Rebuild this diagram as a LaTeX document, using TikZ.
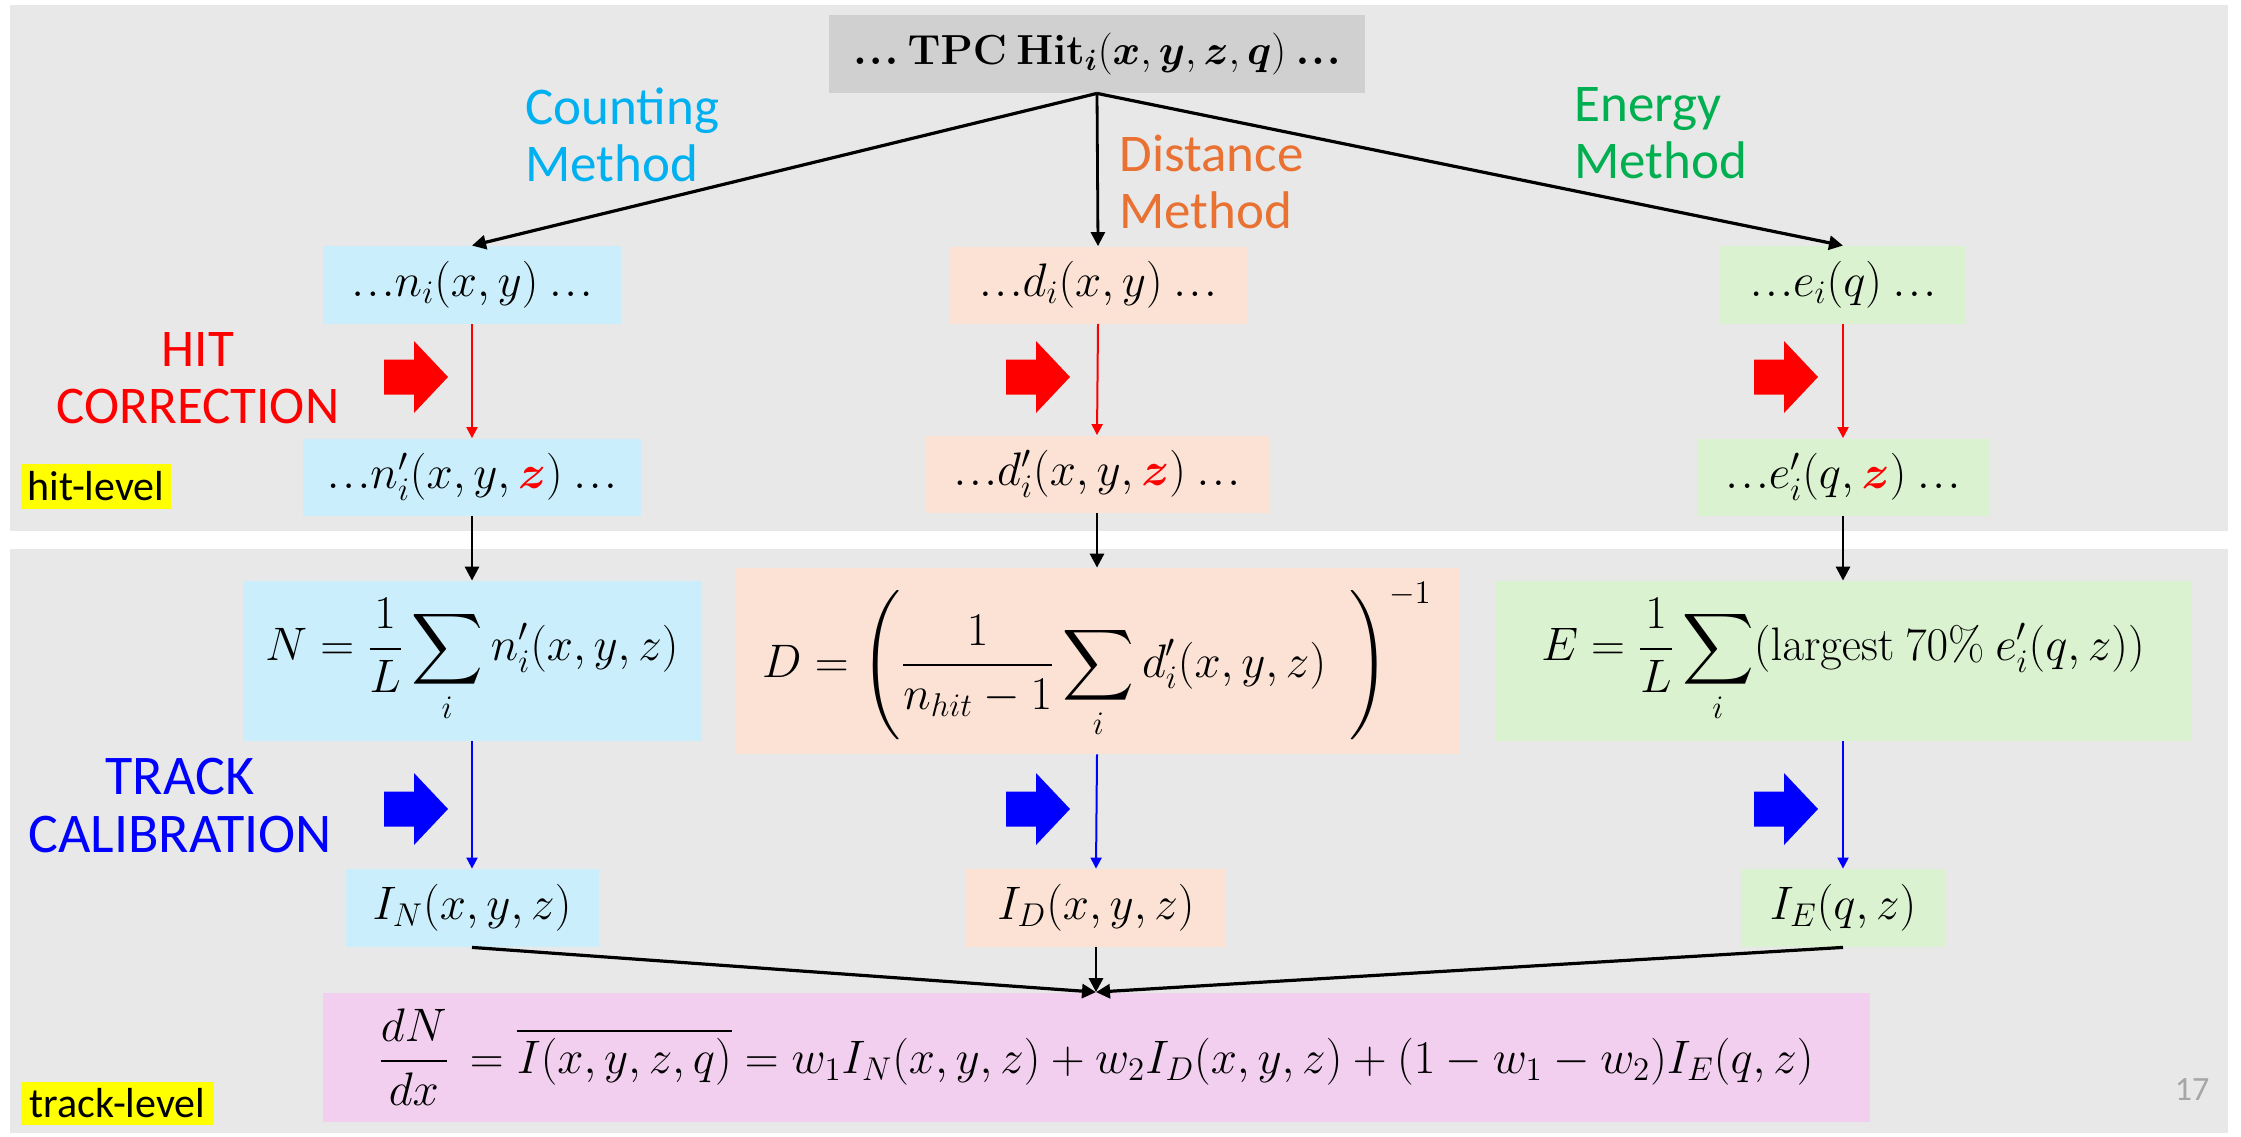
\documentclass[tikz,border=0pt]{standalone}
\usepackage{fix-cm}
\usepackage{amsmath,bm}
\usepackage[no-math]{fontspec}
\setmainfont{Carlito}
\usetikzlibrary{arrows.meta}

\definecolor{panelgray}{HTML}{E8E8E8}
\definecolor{tpcgray}{HTML}{D0D0D0}
\definecolor{boxblue}{HTML}{CAEEFB}
\definecolor{boxorange}{HTML}{FBE2D5}
\definecolor{boxgreen}{HTML}{DAF2D0}
\definecolor{boxpink}{HTML}{F2CEEF}
\definecolor{cntblue}{HTML}{00B0F0}
\definecolor{distorange}{HTML}{E97132}
\definecolor{enggreen}{HTML}{00B050}
\definecolor{hlyellow}{HTML}{FFFF00}
\definecolor{pagegray}{HTML}{A6A6A6}
\definecolor{corrred}{HTML}{FF0000}
\definecolor{calblue}{HTML}{0000FF}

\newcommand{\tdots}{\mathord{\ldotp\mkern-2mu\ldotp\mkern-2mu\ldotp}}
\newcommand{\btdots}{\mathord{\bm{\ldotp}\mkern-2mu\bm{\ldotp}\mkern-2mu\bm{\ldotp}}}

\begin{document}
\begin{tikzpicture}[x=0.5pt,y=-0.5pt,
  mbox/.style={inner sep=0pt, font=\fontsize{23.5}{28}\selectfont},
  lbl/.style={inner sep=0pt, align=left, font=\fontsize{26.5}{28.5}\selectfont},
  clbl/.style={inner sep=0pt, align=center, font=\fontsize{26.5}{28.5}\selectfont},
  tag/.style={inner sep=0pt, fill=hlyellow, font=\fontsize{21}{24}\selectfont},
  blk/.style={-{Triangle[length=7pt,width=7pt]}, line width=1.4pt, black},
  diag/.style={-{Triangle[length=7pt,width=7pt]}, line width=1.6pt, black},
  redarr/.style={-{Triangle[length=5.5pt,width=5.5pt]}, line width=1pt, corrred},
  bluearr/.style={-{Triangle[length=5.5pt,width=5.5pt]}, line width=1pt, calblue},
  bigarrow/.pic={\fill (0,-17.5) -- (30,-17.5) -- (30,-36) -- (64,0) -- (30,36) -- (30,17.5) -- (0,17.5) -- cycle;}
]
\useasboundingbox (0,0) rectangle (2241,1136);
\fill[white] (0,0) rectangle (2241,1136);
\fill[panelgray] (10,5) rectangle (2228,531);
\fill[panelgray] (10,549) rectangle (2228,1133);

% top node
\node[mbox, fill=tpcgray, minimum width=268pt, minimum height=39pt, font=\fontsize{21}{25}\selectfont] (tpc) at (1097,54)
  {$\btdots\ \mathbf{TPC\ Hit}_{\bm i}(\bm x,\bm y,\bm z,\bm q)\ \btdots$};

% method labels
\node[lbl, text=cntblue, anchor=north west] (cntlbl) at (525,87) {Counting\\Method};
\node[lbl, text=distorange, anchor=north west] (distlbl) at (1119,135) {Distance\\Method};
\node[lbl, text=enggreen, anchor=north west] (englbl) at (1574,87) {Energy\\Method};

% hit-level boxes
\node[mbox, fill=boxblue, minimum width=149pt, minimum height=39pt] (ni) at (472,285) {$\tdots n_i(x,y)\ \tdots$};
\node[mbox, fill=boxorange, minimum width=149pt, minimum height=38.5pt] (di) at (1098,285) {$\tdots d_i(x,y)\ \tdots$};
\node[mbox, fill=boxgreen, minimum width=123pt, minimum height=39pt] (ei) at (1843,285) {$\tdots e_i(q)\ \tdots$};

\node[mbox, fill=boxblue, minimum width=169pt, minimum height=38.5pt] (nip) at (472,477) {$\tdots n_i'(x,y,\textcolor{corrred}{\bm z})\ \tdots$};
\node[mbox, fill=boxorange, minimum width=171.5pt, minimum height=38.5pt] (dip) at (1097,474) {$\tdots d_i'(x,y,\textcolor{corrred}{\bm z})\ \tdots$};
\node[mbox, fill=boxgreen, minimum width=146pt, minimum height=38.5pt] (eip) at (1843,477) {$\tdots e_i'(q,\textcolor{corrred}{\bm z})\ \tdots$};

% track-level boxes
\node[mbox, fill=boxblue, minimum width=229.5pt, minimum height=80pt] (N) at (472,661)
  {$N=\dfrac{1}{L}\displaystyle\sum_i n_i'(x,y,z)$};
\node[mbox, fill=boxorange, minimum width=361.5pt, minimum height=93pt] (D) at (1097,661)
  {$D=\left(\dfrac{1}{n_{hit}-1}\displaystyle\sum_i d_i'(x,y,z)\enspace\right)^{-1}$};
\node[mbox, fill=boxgreen, minimum width=348.5pt, minimum height=80pt] (E) at (1843,661)
  {$E=\dfrac{1}{L}\displaystyle\sum_i(\mathrm{largest\ 70\%}\ e_i'(q,z))$};

\node[mbox, fill=boxblue, minimum width=126.5pt, minimum height=39pt] (IN) at (472,908) {$I_N(x,y,z)$};
\node[mbox, fill=boxorange, minimum width=130pt, minimum height=39pt] (ID) at (1096,908) {$I_D(x,y,z)$};
\node[mbox, fill=boxgreen, minimum width=102.5pt, minimum height=39pt] (IE) at (1843,908) {$I_E(q,z)$};

\node[mbox, fill=boxpink, minimum width=773.5pt, minimum height=64.5pt] (sum) at (1096,1057)
  {$\dfrac{dN}{dx}\,=\overline{I(x,y,z,q)}=w_1I_N(x,y,z)+w_2I_D(x,y,z)+(1-w_1-w_2)I_E(q,z)$};

% side labels
\node[clbl, text=corrred] (hitcorr) at (198,378) {HIT\\CORRECTION};
\node[clbl, text=calblue, font=\fontsize{28}{29}\selectfont] (trackcal) at (180,806) {TRACK\\CALIBRATION};
\node[tag, minimum width=75pt, minimum height=22.5pt] (hitlvl) at (96,486.5) {hit-level};
\node[tag, minimum width=96.5pt, minimum height=21.5pt] (trklvl) at (117.5,1103.5) {track-level};
\node[inner sep=0pt, text=pagegray, font=\fontsize{17}{20}\selectfont] (page) at (2192,1090) {17};

% block arrows
\fill[corrred] (384,377) pic {bigarrow};
\fill[corrred] (1006,377) pic {bigarrow};
\fill[corrred] (1754,377) pic {bigarrow};
\fill[calblue] (384,809) pic {bigarrow};
\fill[calblue] (1006,809) pic {bigarrow};
\fill[calblue] (1754,809) pic {bigarrow};

% connectors
\draw[diag] (tpc.south) -- (ni.north);
\draw[blk] (tpc.south) -- (di.north);
\draw[diag] (tpc.south) -- (ei.north);

\draw[redarr] (ni.south) -- (nip.north);
\draw[redarr] (di.south) -- (dip.north);
\draw[redarr] (ei.south) -- (eip.north);

\draw[blk] (nip.south) -- (N.north);
\draw[blk] (dip.south) -- (D.north);
\draw[blk] (eip.south) -- (E.north);

\draw[bluearr] (N.south) -- (IN.north);
\draw[bluearr] (D.south) -- (ID.north);
\draw[bluearr] (E.south) -- (IE.north);

\draw[diag] (IN.south) -- (sum.north);
\draw[blk] (ID.south) -- (sum.north);
\draw[diag] (IE.south) -- (sum.north);
\end{tikzpicture}
\end{document}
